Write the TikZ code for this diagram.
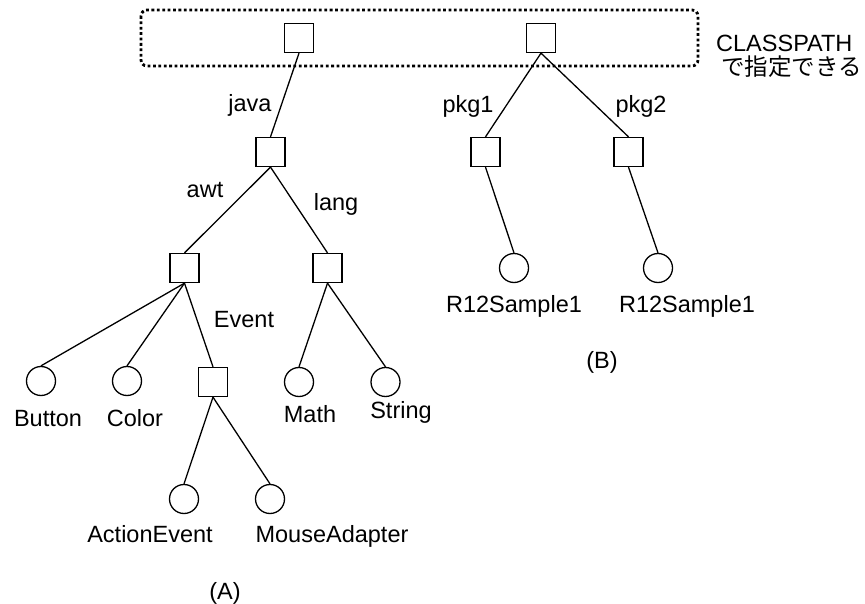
\documentclass[tikz,border=0pt]{standalone}
\usepackage{fontspec}
\setmainfont{Liberation Sans}
\newfontfamily\jpfont{Noto Sans CJK JP}
\begin{document}
\begin{tikzpicture}[x=1pt,y=-1pt,
  pkg/.style={draw,line width=1.3pt,minimum size=29pt,inner sep=0pt},
  cls/.style={draw,line width=1.3pt,circle,minimum size=29pt,inner sep=0pt},
  lbl/.style={font=\fontsize{23.5}{24}\selectfont,inner sep=0pt,anchor=base},
  edge/.style={line width=1.3pt}]
\useasboundingbox (0,0) rectangle (865,604);
% CLASSPATH region
\draw[line width=2.8pt,dash pattern=on 2.8pt off 2.6pt,rounded corners=6pt] (141,10) rectangle (698,66);
\node[lbl,anchor=base west] (cp) at (716,52) {CLASSPATH};
\node[lbl,anchor=base west,font=\fontsize{23.5}{24}\jpfont,text height=18pt,text depth=3pt] (cpjp) at (721,76) {で指定できる};
% tree (A)
\node[pkg] (r1) at (299,38) {};
\node[pkg] (java) at (270.5,152) {};
\node[pkg] (awt) at (184.5,268) {};
\node[pkg] (lang) at (327.5,268) {};
\node[pkg] (event) at (213,382) {};
\node[cls] (button) at (41,381) {};
\node[cls] (color) at (127,381) {};
\node[cls] (math) at (299,382) {};
\node[cls] (string) at (385.5,382) {};
\node[cls] (action) at (184,499) {};
\node[cls] (mouse) at (270,499) {};
\draw[edge] (r1.south) -- (java.north);
\draw[edge] (java.south) -- (awt.north);
\draw[edge] (java.south) -- (lang.north);
\draw[edge] (awt.south) -- (button.north);
\draw[edge] (awt.south) -- (color.north);
\draw[edge] (awt.south) -- (event.north);
\draw[edge] (lang.south) -- (math.north);
\draw[edge] (lang.south) -- (string.north);
\draw[edge] (event.south) -- (action.north);
\draw[edge] (event.south) -- (mouse.north);
\node[lbl] (ljava) at (250,112) {java};
\node[lbl] (lawt) at (205,198) {awt};
\node[lbl] (llang) at (336,211) {lang};
\node[lbl] (levent) at (244,327) {Event};
\node[lbl] (tbutton) at (48,426) {Button};
\node[lbl] (tcolor) at (135,426) {Color};
\node[lbl] (tmath) at (310,422) {Math};
\node[lbl] (tstring) at (401,418) {String};
\node[lbl] (taction) at (150,542) {ActionEvent};
\node[lbl] (tmouse) at (332,542) {MouseAdapter};
\node[lbl] (capA) at (225,599) {(A)};
% tree (B)
\node[pkg] (r2) at (541,38) {};
\node[pkg] (pkga) at (485.5,152) {};
\node[pkg] (pkgb) at (628.5,152) {};
\node[cls] (sa) at (514,268) {};
\node[cls] (sb) at (658,268) {};
\draw[edge] (r2.south) -- (pkga.north);
\draw[edge] (r2.south) -- (pkgb.north);
\draw[edge] (pkga.south) -- (sa.north);
\draw[edge] (pkgb.south) -- (sb.north);
\node[lbl] (lpa) at (468,113) {pkg1};
\node[lbl] (lpb) at (641,113) {pkg2};
\node[lbl] (tsa) at (514,312) {R12Sample1};
\node[lbl] (tsb) at (687,312) {R12Sample1};
\node[lbl] (capB) at (602,368) {(B)};
\end{tikzpicture}
\end{document}
